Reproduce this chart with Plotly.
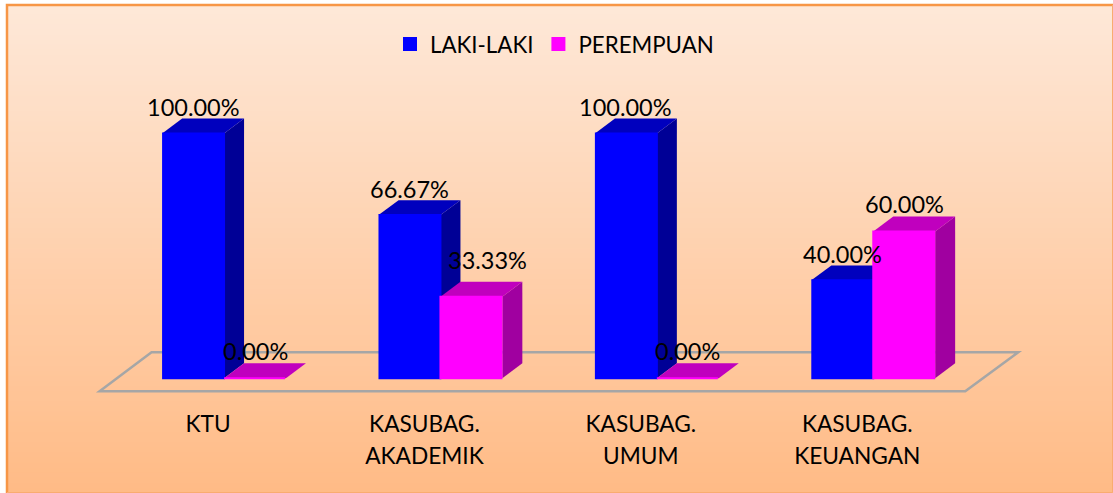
import plotly.graph_objects as go

## Data
categories = ["KTU", "KASUBAG.<br>AKADEMIK", "KASUBAG.<br>UMUM", "KASUBAG.<br>KEUANGAN"]
x_pos = [0, 1, 2, 3]
laki = [100.00, 66.67, 100.00, 40.00]
perempuan = [0.00, 33.33, 0.00, 60.00]

BAR = 0.286          # single bar width in x units
DX = 0.0924          # depth of the fake 3D effect
DY = 6.1

L, R, T, B = 73, 77, 60, 100
W, H = 1113, 493

## Pixel position to paper coordinates (paper = plot area in plotly)
def px(p):
    return (p - L) / (W - L - R)

def py(p):
    return 1 - (p - T) / (H - T - B)

fig = go.Figure()

## Line in the bar colour makes the legend swatch bigger as well
fig.add_trace(go.Bar(x=x_pos, y=laki, name="LAKI-LAKI", marker_color="#0000FF",
                     marker_line=dict(color="#0000FF", width=2)))
fig.add_trace(go.Bar(x=x_pos, y=perempuan, name="PEREMPUAN", marker_color="#FF00FF",
                     marker_line=dict(color="#FF00FF", width=2)))

shapes = []

## Background gradient, light peach on top to orange at the bottom
n_bands = 96
top_col = (254, 232, 216)
bot_col = (255, 187, 134)
for i in range(n_bands):
    t = i / (n_bands - 1)
    col = [round(a + (b - a) * t) for a, b in zip(top_col, bot_col)]
    band_top = 4 + (H - 4) * i / n_bands
    shapes.append(dict(type="rect", xref="paper", yref="paper", layer="below",
                       x0=px(6), x1=px(W), y0=py(H), y1=py(band_top),
                       fillcolor=f"rgb({col[0]},{col[1]},{col[2]})", line_width=0))

## Orange frame, strong on the left and top, faint on the other two sides
shapes.append(dict(type="path", xref="paper", yref="paper", layer="below",
                   path=f"M {px(W)},{py(5)} L {px(7)},{py(5)} L {px(7)},{py(H)}",
                   line=dict(color="#F79646", width=2.5)))
shapes.append(dict(type="path", xref="paper", yref="paper", layer="below",
                   path=f"M {px(7)},{py(H - 0.5)} L {px(W - 0.5)},{py(H - 0.5)} L {px(W - 0.5)},{py(5)}",
                   line=dict(color="#F9AC70", width=1)))

## Floor of the chart
shapes.append(dict(type="path", layer="below", xref="x", yref="y",
                   path="M -0.575,-5.3 L 3.425,-5.3 L 3.67,10.6 L -0.335,10.6 Z",
                   line=dict(color="#A6A6A6", width=2.5), fillcolor="rgba(0,0,0,0)"))

## Side and top faces of each bar
def add_faces(values, offset, top, side):
    for x, v in zip(x_pos, values):
        x0 = x + offset
        x1 = x0 + BAR
        shapes.append(dict(type="path", layer="below", xref="x", yref="y", line_width=0, fillcolor=side,
                           path=f"M {x1},0 L {x1 + DX},{DY} L {x1 + DX},{v + DY} L {x1},{v} Z"))
        shapes.append(dict(type="path", layer="below", xref="x", yref="y", line_width=0, fillcolor=top,
                           path=f"M {x0},{v} L {x0 + DX},{v + DY} L {x1 + DX},{v + DY} L {x1},{v} Z"))

add_faces(laki, -BAR, "#0000BE", "#000096")
add_faces(perempuan, 0, "#C000BE", "#A000A0")

## Data labels
annotations = []
for x, v in zip(x_pos, laki):
    annotations.append(dict(x=x - BAR / 2, y=v, text=f"{v:.2f}%", showarrow=False, yshift=26))
for x, v in zip(x_pos, perempuan):
    moved = v == 33.33
    annotations.append(dict(x=x + BAR / 2, y=v, text=f"{v:.2f}%", showarrow=False,
                            yshift=37 if moved else 27, xshift=16 if moved else 0))

## Tick font sets the line spacing, the span sets the glyph size
tick_text = ["<br>".join(f'<span style="font-size:22.7px">{part}</span>' for part in c.split("<br>"))
             for c in categories]

fig.update_layout(
    width=W,
    height=H,
    margin=dict(l=L, r=R, t=T, b=B),
    font=dict(family="Lato, Carlito, sans-serif", size=23.5, color="#000000"),
    paper_bgcolor="#FFFFFF",
    plot_bgcolor="rgba(0,0,0,0)",
    barmode="group",
    bargap=0.4365,
    bargroupgap=0,
    shapes=shapes,
    annotations=annotations,
    showlegend=True,
    legend=dict(orientation="h", x=0.5, xanchor="center", xref="paper", y=py(23), yref="paper", yanchor="top",
                bgcolor="rgba(0,0,0,0)", font=dict(size=22.3)),
    xaxis=dict(range=[-0.698, 3.752], tickvals=x_pos, ticktext=tick_text, showgrid=False, zeroline=False,
               showline=False, ticks="outside", ticklen=8, tickcolor="rgba(0,0,0,0)",
               tickfont=dict(size=24.6), ticklabelshift=-16),
    yaxis=dict(range=[-6, 130], visible=False),
)

fig.write_html("out.html", post_script="document.body.style.margin='0';", config={"displayModeBar": False})
